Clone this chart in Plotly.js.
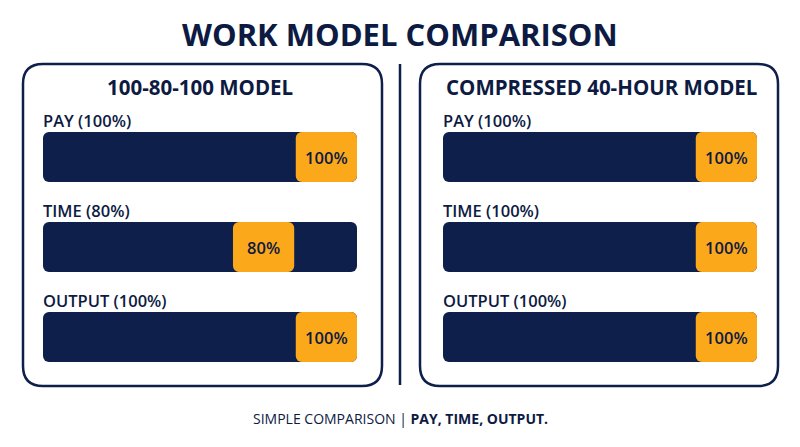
<!DOCTYPE html>
<html>
<head>
<meta charset="utf-8">
<script src="https://cdn.plot.ly/plotly-3.0.1.min.js"></script>
<style>html,body{margin:0;padding:0;background:#fff;}#chart{width:800px;height:447px;}</style>
</head>
<body>
<div id="chart"></div>
<script>
// ---- data ----
const metrics = ["PAY", "TIME", "OUTPUT"];
const modelNames = ["100-80-100 MODEL", "COMPRESSED 40-HOUR MODEL"];
const model1Values = [100, 80, 100];
const model2Values = [100, 100, 100];
const scaleMax = 100;
const chartTitle = "WORK MODEL COMPARISON";
const footerPlain = "SIMPLE COMPARISON | ";
const footerBold = "PAY, TIME, OUTPUT.";

// ---- style ----
const NAVY = "#0e1f4b";
const ORANGE = "#fba81a";
const TEXT = "#0d1a42";
const FONT = "Open Sans, Noto Sans, sans-serif";
const W = 800, H = 447;
const blockW = 19.5;
const yIdx = metrics.map((_, i) => i);

function traces(values, xa, ya) {
  return [
    {type: "bar", orientation: "h", x: values.map(() => scaleMax), y: yIdx, base: 0,
     xaxis: xa, yaxis: ya, width: 50/90, marker: {color: NAVY, cornerradius: 6, line: {width: 0}},
     hoverinfo: "skip", showlegend: false},
    {type: "bar", orientation: "h", x: values.map(() => blockW), base: values.map(v => v - blockW), y: yIdx,
     xaxis: xa, yaxis: ya, width: 50/90, marker: {color: ORANGE, cornerradius: 6, line: {width: 0}},
     text: values.map(v => v + "%"), textposition: "inside", insidetextanchor: "middle",
     textangle: 0, constraintext: "none",
     textfont: {family: FONT, size: 16.5, color: TEXT, weight: 600},
     hoverinfo: "skip", showlegend: false}
  ];
}

const data = [...traces(model1Values, "x", "y"), ...traces(model2Values, "x2", "y2")];

const yRange = [(H - 157) / 90, -157 / 90];
const axX = d => ({domain: d, range: [0, scaleMax], showgrid: false, zeroline: false, showticklabels: false, fixedrange: true});
const axY = {domain: [0, 1], range: yRange, showgrid: false, zeroline: false, showticklabels: false, fixedrange: true};

function px(x) { return x / W; }
function py(y) { return 1 - y / H; }
function roundRect(x0, y0, x1, y1, r) {
  const rx = r / W, ry = r / H;
  const L = px(x0), R = px(x1), T = py(y0), B = py(y1);
  return `M ${L + rx},${T} L ${R - rx},${T} Q ${R},${T} ${R},${T - ry} L ${R},${B + ry} Q ${R},${B} ${R - rx},${B} L ${L + rx},${B} Q ${L},${B} ${L},${B + ry} L ${L},${T - ry} Q ${L},${T} ${L + rx},${T} Z`;
}

const shapes = [
  {type: "path", xref: "paper", yref: "paper", path: roundRect(23, 64, 382, 386, 20), line: {color: NAVY, width: 2.5}, layer: "below"},
  {type: "path", xref: "paper", yref: "paper", path: roundRect(420, 64, 778, 386, 20), line: {color: NAVY, width: 2.5}, layer: "below"},
  {type: "line", xref: "paper", yref: "paper", x0: px(400), x1: px(400), y0: py(64), y1: py(385), line: {color: NAVY, width: 2.5}}
];

const annotations = [
  {xref: "paper", yref: "paper", x: 0.5, y: py(34), text: "<b>" + chartTitle + "</b>", showarrow: false,
   xanchor: "center", yanchor: "middle", font: {family: FONT, size: 31, color: TEXT}},
  {xref: "paper", yref: "paper", x: px(200), y: py(87), text: "<b>" + modelNames[0] + "</b>", showarrow: false,
   xanchor: "center", yanchor: "middle", font: {family: FONT, size: 20.5, color: TEXT}},
  {xref: "paper", yref: "paper", x: px(601), y: py(87), text: "<b>" + modelNames[1] + "</b>", showarrow: false,
   xanchor: "center", yanchor: "middle", font: {family: FONT, size: 20.5, color: TEXT}},
  {xref: "paper", yref: "paper", x: 0.5, y: py(418), text: footerPlain + "<b>" + footerBold + "</b>", showarrow: false,
   xanchor: "center", yanchor: "middle", font: {family: FONT, size: 14, color: TEXT}}
];
[[model1Values, "x", "y"], [model2Values, "x2", "y2"]].forEach(([vals, xa, ya]) => {
  metrics.forEach((m, i) => {
    annotations.push({xref: xa, yref: ya, x: 0, y: i - 0.41, text: m + " (" + vals[i] + "%)", showarrow: false,
      xanchor: "left", yanchor: "middle", xshift: -2, font: {family: FONT, size: 16.5, color: TEXT, weight: 600}});
  });
});

const layout = {
  width: W, height: H, margin: {l: 0, r: 0, t: 0, b: 0},
  paper_bgcolor: "#ffffff", plot_bgcolor: "rgba(0,0,0,0)",
  barmode: "overlay", showlegend: false,
  xaxis: axX([43 / W, 357 / W]), yaxis: Object.assign({anchor: "x"}, axY),
  xaxis2: axX([443 / W, 757 / W]), yaxis2: Object.assign({anchor: "x2"}, axY),
  shapes, annotations
};

Plotly.newPlot("chart", data, layout, {staticPlot: true, displayModeBar: false});
</script>
</body>
</html>
